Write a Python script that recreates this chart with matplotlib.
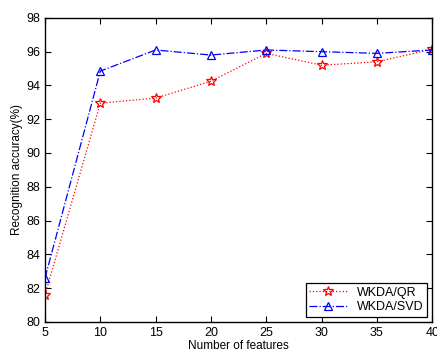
import matplotlib
matplotlib.use("Agg")
import matplotlib.pyplot as plt

plt.rcParams["font.family"] = ["Liberation Sans", "DejaVu Sans"]

features = [5, 10, 15, 20, 25, 30, 35, 40]
acc_qr = [81.6, 92.95, 93.25, 94.25, 95.9, 95.2, 95.4, 96.15]
acc_svd = [82.6, 94.85, 96.1, 95.8, 96.1, 96.0, 95.9, 96.1]

fig = plt.figure(figsize=(4.37, 3.51), dpi=100)
ax = fig.add_axes([0.103, 0.083, 0.886, 0.866])

ax.plot(features, acc_qr, color="red", linestyle=":", linewidth=0.9,
        marker="*", markersize=7, markerfacecolor="none", markeredgewidth=0.9,
        label="WKDA/QR")
ax.plot(features, acc_svd, color="blue", linestyle="-.", linewidth=0.9,
        marker="^", markersize=6, markerfacecolor="none", markeredgewidth=0.9,
        label="WKDA/SVD")

ax.set_xlim(5, 40)
ax.set_ylim(80, 98)
ax.set_xticks(range(5, 41, 5))
ax.set_yticks(range(80, 99, 2))
ax.tick_params(direction="in", top=True, right=True, labelsize=9, length=4, width=0.8)
for s in ax.spines.values():
    s.set_linewidth(1.0)

ax.set_xlabel("Number of features", fontsize=8.5, labelpad=1)
ax.set_ylabel("Recognition accuracy(%)", fontsize=8.5, labelpad=2)

leg = ax.legend(loc="lower right", fontsize=9, fancybox=False, framealpha=1,
                borderaxespad=0.4, handlelength=3, borderpad=0.3, labelspacing=0.2)
leg.get_frame().set_edgecolor("black")
leg.get_frame().set_linewidth(0.9)

fig.savefig("out.png", dpi=100)
